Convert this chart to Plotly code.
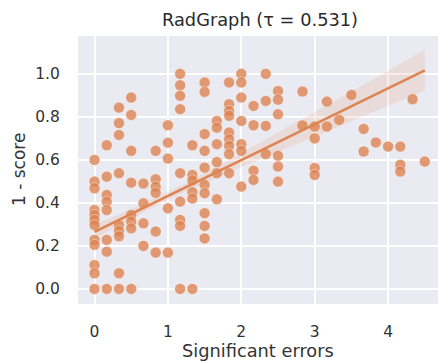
import numpy as np
import plotly.graph_objects as go

# Significant errors (mean count per report) and 1 - RadGraph score, grouped by error level
err_levels = [0, 1/6, 2/6, 3/6, 4/6, 5/6, 1, 7/6, 8/6, 9/6, 10/6, 11/6, 2,
              13/6, 14/6, 15/6, 17/6, 3, 19/6, 20/6, 21/6, 22/6, 23/6, 4,
              25/6, 26/6, 27/6]
score_groups = [
    [0.60, 0.499, 0.468, 0.367, 0.344, 0.321, 0.297, 0.228, 0.205, 0.111, 0.073, 0.0],
    [0.668, 0.522, 0.437, 0.406, 0.367, 0.228, 0.173, 0.0],
    [0.843, 0.771, 0.716, 0.538, 0.297, 0.27, 0.245, 0.073, 0.0],
    [0.89, 0.809, 0.642, 0.494, 0.344, 0.313, 0.282, 0.0],
    [0.49, 0.398, 0.305, 0.2],
    [0.642, 0.51, 0.475, 0.447, 0.267, 0.169],
    [0.761, 0.68, 0.606, 0.375, 0.169],
    [1.0, 0.947, 0.898, 0.836, 0.538, 0.406, 0.321, 0.293, 0.0],
    [0.668, 0.53, 0.505, 0.45, 0.42, 0.0],
    [0.96, 0.916, 0.72, 0.642, 0.564, 0.484, 0.445, 0.352, 0.293, 0.235],
    [0.781, 0.75, 0.673, 0.59, 0.538, 0.417],
    [0.96, 0.859, 0.828, 0.805, 0.727, 0.696, 0.665, 0.627, 0.538],
    [1.0, 0.96, 0.89, 0.781, 0.673, 0.642, 0.476],
    [0.851, 0.761, 0.55, 0.507],
    [1.0, 0.874, 0.758, 0.627],
    [0.92, 0.88, 0.812, 0.619, 0.569, 0.499],
    [0.918, 0.76],
    [0.755, 0.70, 0.562, 0.53],
    [0.871, 0.755],
    [0.786],
    [0.902],
    [0.744, 0.639],
    [0.681],
    [0.662],
    [0.662, 0.577, 0.546],
    [0.882],
    [0.592],
]
x_ticks = [0, 1, 2, 3, 4]
y_ticks = [0.0, 0.2, 0.4, 0.6, 0.8, 1.0]
title_text = "RadGraph (τ = 0.531)"

# Linear fit of 1 - score on errors, and its 95% confidence band
fit_intercept = 0.265
fit_slope = 0.167
band_min_halfwidth = 0.018   # narrowest half-width of the band
band_min_at = 1.0            # error level where the band is narrowest
band_halfwidth_at_0 = 0.032  # half-width of the band at zero errors

x = np.concatenate([[lvl] * len(g) for lvl, g in zip(err_levels, score_groups)])
y = np.concatenate([np.array(g, dtype=float) for g in score_groups])

xs = np.linspace(x.min(), x.max(), 100)
ys = fit_intercept + fit_slope * xs
k2 = (band_halfwidth_at_0 ** 2 - band_min_halfwidth ** 2) / band_min_at ** 2
hw = np.sqrt(band_min_halfwidth ** 2 + k2 * (xs - band_min_at) ** 2)
lo, hi = ys - hw, ys + hw

orange = "#DD8452"
fig = go.Figure()
fig.add_trace(go.Scatter(
    x=x, y=y, mode="markers",
    marker=dict(size=11, color=orange, opacity=0.8,
                line=dict(width=0.8, color="rgba(255,255,255,0.6)")),
    showlegend=False, hoverinfo="skip"))
fig.add_trace(go.Scatter(
    x=np.concatenate([xs, xs[::-1]]), y=np.concatenate([hi, lo[::-1]]),
    fill="toself", fillcolor="rgba(221,132,82,0.15)", line=dict(width=0),
    mode="lines", showlegend=False, hoverinfo="skip"))
fig.add_trace(go.Scatter(
    x=xs, y=ys, mode="lines", line=dict(color=orange, width=2.6),
    showlegend=False, hoverinfo="skip"))

font_family = "DejaVu Sans, Verdana, sans-serif"
text_color = "#333333"
fig.update_layout(
    width=438, height=361,
    margin=dict(l=78, r=0, t=36, b=57),
    paper_bgcolor="white", plot_bgcolor="#EAEAF2",
    font=dict(family=font_family, color=text_color, size=15),
    title=dict(text=title_text, x=260 / 438, xref="container", xanchor="center",
               y=1 - 20 / 361, yref="container", yanchor="middle",
               font=dict(size=17.8, color="#2a2a2a")),
    xaxis=dict(range=[-0.225, 4.68], tickvals=x_ticks, ticks="outside",
               ticklen=13, tickcolor="rgba(0,0,0,0)", showline=False,
               gridcolor="white", gridwidth=1.5, zeroline=False,
               tickfont=dict(size=15.5)),
    yaxis=dict(range=[-0.07, 1.176], tickvals=y_ticks, tickformat=".1f",
               ticks="outside", ticklen=14, tickcolor="rgba(0,0,0,0)",
               showline=False, gridcolor="white", gridwidth=1.5,
               zeroline=False, tickfont=dict(size=15.5)),
    annotations=[
        dict(text="Significant errors", xref="paper", yref="paper",
             x=(258 - 78) / 360, y=-(350 - 304) / 268, xanchor="center",
             yanchor="middle", showarrow=False, font=dict(size=17.8)),
        dict(text="1 - score", xref="paper", yref="paper",
             x=(19 - 78) / 360, y=(304 - 170) / 268, xanchor="center",
             yanchor="middle", textangle=-90, showarrow=False,
             font=dict(size=17)),
    ],
)

fig.write_html("out.html")
